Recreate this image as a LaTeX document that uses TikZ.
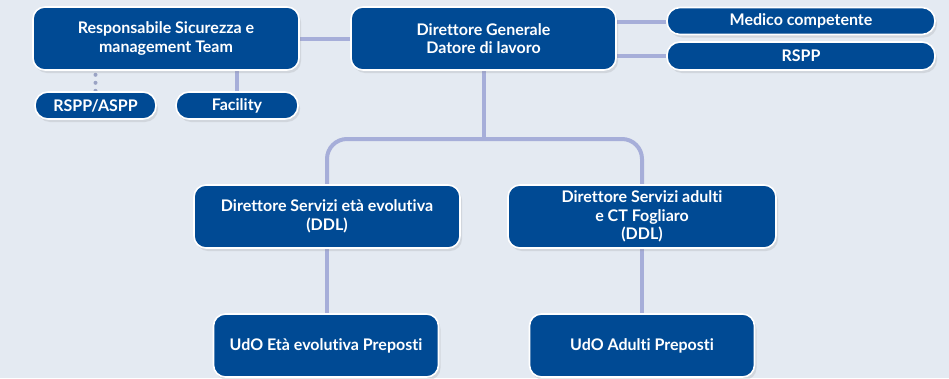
\documentclass[tikz,border=0pt]{standalone}
\usepackage{fontspec}
\setmainfont{Lato}[Ligatures=NoCommon]
\usetikzlibrary{shadows,backgrounds}
\definecolor{bgc}{HTML}{E4EAF2}
\definecolor{boxc}{HTML}{004A94}
\definecolor{linec}{HTML}{A6AED9}
\definecolor{dotc}{HTML}{9AA3C4}
\tikzset{
  orgbox/.style={draw=white, line width=1.6pt, fill=boxc, text=white, rounded corners=12pt,
    font=\bfseries\fontsize{16}{18.5}\selectfont, align=center, inner sep=0pt,
    drop shadow={opacity=0.18, shadow xshift=2pt, shadow yshift=-3pt}},
  pill/.style={orgbox, rounded corners=13pt},
  conn/.style={draw=linec, line width=4pt},
  dotconn/.style={draw=dotc, line width=4pt, line cap=round, dash pattern=on 0pt off 8pt},
}
\begin{document}
\begin{tikzpicture}[x=1pt,y=-1pt]
\useasboundingbox (0,0) rectangle (949,378);
\node[orgbox, minimum width=266pt, minimum height=63pt] (resp) at (166,38.5) {Responsabile Sicurezza e\\management Team};
\node[pill, minimum width=121pt, minimum height=27pt] (rsppa) at (95.5,105.5) {RSPP/ASPP};
\node[pill, minimum width=122pt, minimum height=27pt] (fac) at (237,105.5) {Facility};
\node[orgbox, minimum width=265pt, minimum height=63pt] (dg) at (483.5,38.5) {Direttore Generale\\Datore di lavoro};
\node[pill, minimum width=268pt, minimum height=27pt] (med) at (801,21) {Medico competente};
\node[pill, minimum width=268pt, minimum height=28pt] (rspp) at (801,56) {RSPP};
\node[orgbox, minimum width=266pt, minimum height=63pt] (dse) at (327,216.5) {Direttore Servizi età evolutiva\\(DDL)};
\node[orgbox, minimum width=268pt, minimum height=63pt] (dsa) at (642,216.5) {Direttore Servizi adulti\\e CT Fogliaro\\(DDL)};
\node[orgbox, minimum width=225pt, minimum height=63pt] (udoe) at (326,345.5) {UdO Età evolutiva Preposti};
\node[orgbox, minimum width=225pt, minimum height=63pt] (udoa) at (642,345.5) {UdO Adulti Preposti};
\coordinate (bar) at (483.5,139);
\begin{scope}[on background layer]
  \fill[bgc] (0,0) rectangle (949,378);
  \draw[conn] (resp.east) -- (dg.west);
  \draw[conn] (dg.east |- 0,22) -- (med.west |- 0,22);
  \draw[conn] (dg.east |- rspp) -- (rspp.west);
  \draw[conn] (dg.south) -- (bar);
  \draw[conn, rounded corners=20pt] (dse.north) |- (bar) -| (dsa.north);
  \draw[conn] (dse.south) -- (udoe.north -| dse.south);
  \draw[conn] (dsa.south) -- (udoa.north);
  \draw[conn] (resp.south -| fac) -- (fac.north);
  \draw[dotconn] (resp.south -| rsppa) ++(0,4) -- (rsppa.north);
\end{scope}
\end{tikzpicture}
\end{document}
